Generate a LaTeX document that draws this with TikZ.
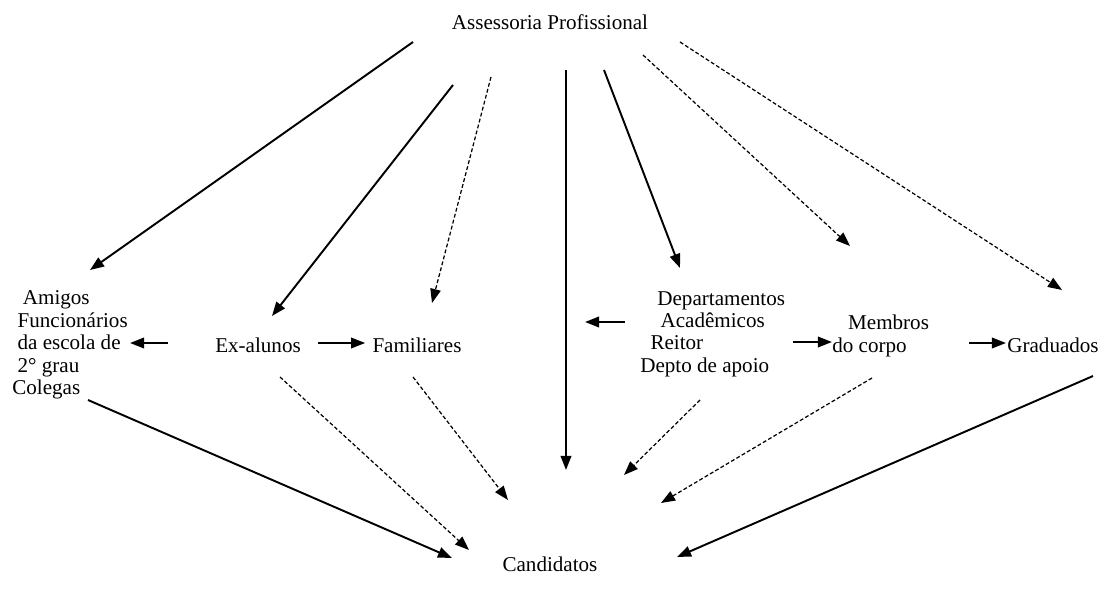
\documentclass[tikz,border=0pt]{standalone}
\usepackage{fontspec}
\setmainfont{Liberation Serif}
\usetikzlibrary{arrows.meta,calc}

\begin{document}
\begin{tikzpicture}[x=0.02cm,y=-0.02cm,
  txt/.style={inner sep=0pt,font=\fontsize{12}{12.75}\selectfont},
  seta/.style={-{Triangle[length=8pt,width=6pt]},line width=1.1pt},
  tracejada/.style={seta,line width=0.7pt,dash pattern=on 2.2pt off 1.3pt}]
\useasboundingbox (0,0) rectangle (1106,591);
% textos
\node [txt] (assessoria) at (550,22) {Assessoria Profissional};
\node [txt,align=left,anchor=west] (amigos) at (12,345)
  {\hspace{6pt}Amigos\\ \hspace{3pt}Funcionários\\ \hspace{3pt}da escola de\\ \hspace{3pt}2° grau\\ Colegas};
\node [txt] (exalunos) at (258,345) {Ex-alunos};
\node [txt] (familiares) at (417,345) {Familiares};
\node [txt,align=left,anchor=west] (deptos) at (640,334)
  {\hspace{9.7pt}Departamentos\\ \hspace{11.5pt}Acadêmicos\\ \hspace{5.8pt}Reitor\\ Depto de apoio};
\node [txt,align=left,anchor=west] (membros) at (832,336)
  {\hspace{9pt}Membros\\ do corpo};
\node [txt,anchor=west] (graduados) at (1007,345) {Graduados};
\node [txt] (candidatos) at (550,564) {Candidatos};
% pontos das setas
\coordinate (a1) at (413,42);  \coordinate (b1) at (90,270);
\coordinate (a2) at (453,85);  \coordinate (b2) at (272,316);
\coordinate (a3) at (491,77);  \coordinate (b3) at (432,303);
\coordinate (a4) at (566,70);  \coordinate (b4) at (566,470);
\coordinate (a5) at (604,70);  \coordinate (b5) at (680,268);
\coordinate (a6) at (643,55);  \coordinate (b6) at (850,246);
\coordinate (a7) at (680,42);  \coordinate (b7) at (1062,290);
\coordinate (c1) at (88,400);  \coordinate (d1) at (452,558);
\coordinate (c2) at (280,377); \coordinate (d2) at (469,550);
\coordinate (c3) at (413,377); \coordinate (d3) at (508,500);
\coordinate (c4) at (700,400); \coordinate (d4) at (624,475);
\coordinate (c5) at (872,378); \coordinate (d5) at (661,503);
\coordinate (c6) at (1093,376); \coordinate (d6) at (677,557);
% de Assessoria Profissional
\draw [seta] (a1) -- (b1);
\draw [seta] (a2) -- (b2);
\draw [tracejada] (a3) -- (b3);
\draw [seta] (a4) -- (b4);
\draw [seta] (a5) -- (b5);
\draw [tracejada] (a6) -- (b6);
\draw [tracejada] (a7) -- (b7);
% horizontais
\draw [seta] ($(exalunos.west)+(-47,-2)$) -- ($(amigos.west)+(118,-2)$);
\draw [seta] ($(exalunos.east)+(17,-2)$) -- ($(familiares.west)+(-7,-2)$);
\draw [seta] ($(deptos.west)+(-15,-12)$) -- ($(deptos.west)+(-55,-12)$);
\draw [seta] ($(deptos.east)+(8,8)$) -- ($(membros.west)+(0,6)$);
\draw [seta] ($(membros.east)+(40,7)$) -- ($(graduados.west)+(-1,-2)$);
% para Candidatos
\draw [seta] (c1) -- (d1);
\draw [tracejada] (c2) -- (d2);
\draw [tracejada] (c3) -- (d3);
\draw [tracejada] (c4) -- (d4);
\draw [tracejada] (c5) -- (d5);
\draw [seta] (c6) -- (d6);
\end{tikzpicture}
\end{document}
